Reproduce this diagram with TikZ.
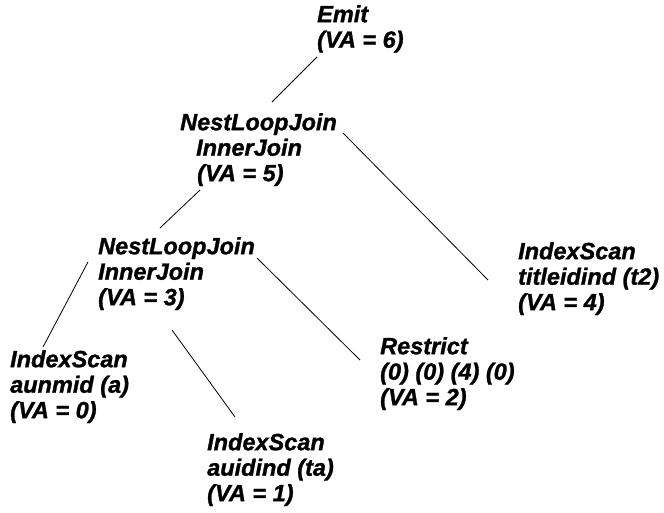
\documentclass[tikz,border=0pt]{standalone}
\usepackage{fontspec}
\setmainfont{Liberation Sans}
\newfontfamily\planfont{Liberation Sans Bold Italic}[FakeBold=1.2]
\usetikzlibrary{calc}
\begin{document}
\begin{tikzpicture}[x=1pt,y=-1pt,
  plan/.style={anchor=north west,inner sep=0pt,align=left,
    font=\planfont\fontsize{23.5}{25.5}\selectfont},
  edge/.style={line width=0.8pt}]
\useasboundingbox (0,0) rectangle (664,512);
% first line of every node carries an 18pt strut so its top sits 18pt above the baseline
\newcommand{\fl}{\rule{0pt}{18pt}}
\node[plan] (emit)     at (317,4)   {\fl Emit\\(VA = 6)};
\node[plan] (nlj5)     at (180,112) {\fl NestLoopJoin\\\hspace*{16pt}InnerJoin\\\hspace*{17pt}(VA = 5)};
\node[plan] (nlj3)     at (98,236)  {\fl NestLoopJoin\\InnerJoin\\(VA = 3)};
\node[plan] (scana)    at (10,349)  {\fl IndexScan\\aunmid (a)\\(VA = 0)};
\node[plan] (scanta)   at (207,432) {\fl IndexScan\\auidind (ta)\\(VA = 1)};
\node[plan] (restrict) at (380,336) {\fl Restrict\\(0) (0) (4) (0)\\(VA = 2)};
\node[plan] (scant2)   at (518,241) {\fl IndexScan\\titleidind (t2)\\(VA = 4)};

\draw[edge] ($(emit.north west)+(0,53)$)  -- ($(nlj5.north west)+(92,-10)$);
\draw[edge] ($(nlj5.north west)+(163,21)$) -- ($(scant2.north west)+(-30,39)$);
\draw[edge] ($(nlj5.north west)+(20,78)$)  -- ($(nlj3.north west)+(62,-8)$);
\draw[edge] ($(nlj3.north west)+(-10,26)$) -- ($(scana.north west)+(33,-2)$);
\draw[edge] ($(nlj3.north west)+(74,94)$)  -- ($(scanta.north west)+(28,-15)$);
\draw[edge] ($(nlj3.north west)+(159,22)$) -- ($(restrict.north west)+(-20,24)$);
\end{tikzpicture}
\end{document}
